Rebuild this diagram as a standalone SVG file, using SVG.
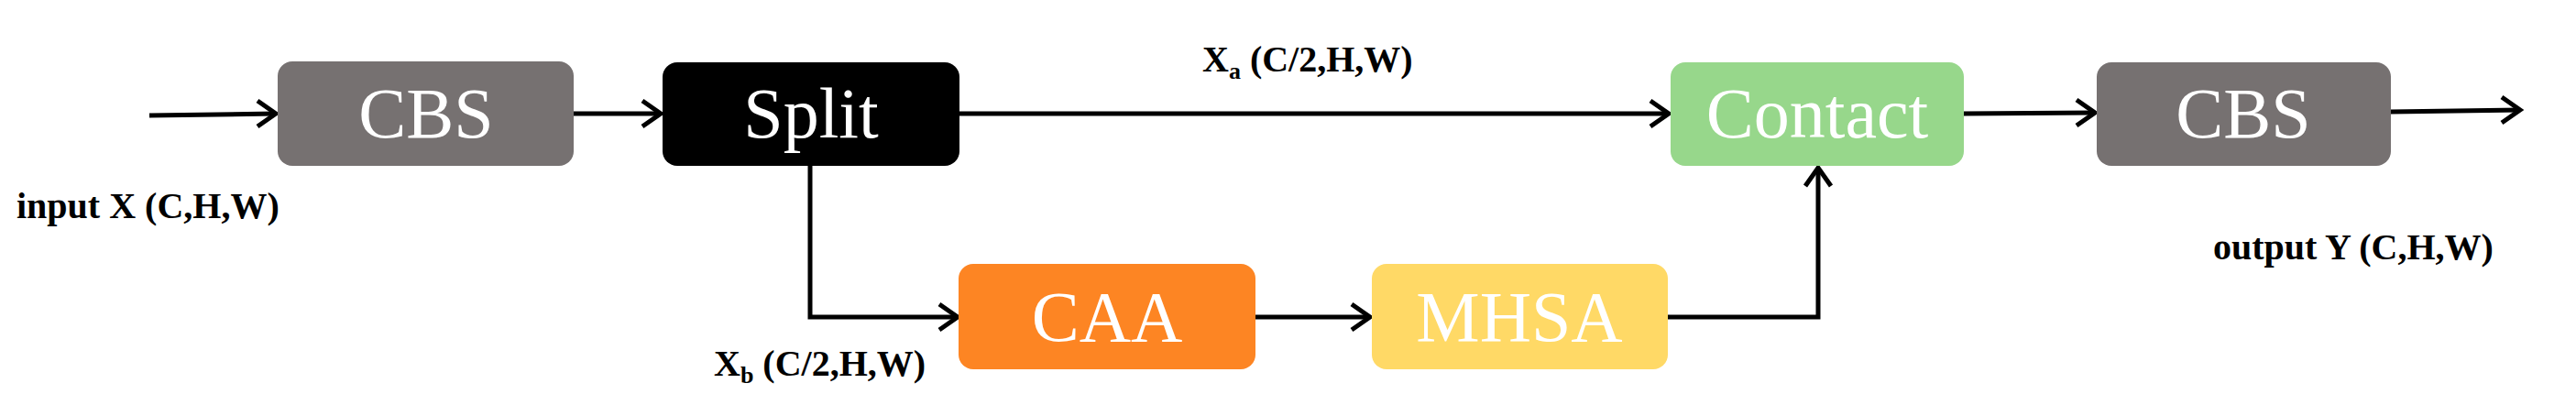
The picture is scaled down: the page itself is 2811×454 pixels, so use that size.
<svg xmlns="http://www.w3.org/2000/svg" width="2811" height="454" viewBox="0 0 2811 454">
<style>
.box text{font-family:"Liberation Serif",serif;font-size:78px;fill:#fff;text-anchor:middle}
.lbl{font-family:"Liberation Serif",serif;font-size:40px;font-weight:bold;fill:#000}
.c{fill:none;stroke:#000;stroke-width:5}
</style>
<defs>
<marker id="a" viewBox="0 0 20 20" refX="18" refY="10" markerWidth="8" markerHeight="8" markerUnits="userSpaceOnUse" orient="auto" style="overflow:visible">
<path d="M4,0 L18,10 L4,20" fill="none" stroke="#000" stroke-width="3"/>
</marker>
</defs>
<rect width="2811" height="454" fill="#fff"/>
<g id="connectors">
<path class="c" d="M163,126 L301,124" marker-end="url(#a)" style="--m:0"/>
<path class="c" d="M626,124 L721,124"/>
<path class="c" d="M1047,124 L1821,124"/>
<path class="c" d="M884,181 L884,346 L1045,346"/>
<path class="c" d="M1370,346 L1495,346"/>
<path class="c" d="M1820,346 L1984,346 L1984,183"/>
<path class="c" d="M2143,124 L2286,123"/>
<path class="c" d="M2609,122 L2750,120"/>
</g>
<g fill="none" stroke="#000" stroke-width="5" stroke-linejoin="miter">
<path d="M281,110 L301,124 L281,138"/>
<path d="M701,110 L721,124 L701,138"/>
<path d="M1801,110 L1821,124 L1801,138"/>
<path d="M1025,332 L1045,346 L1025,360"/>
<path d="M1475,332 L1495,346 L1475,360"/>
<path d="M1970,203 L1984,183 L1998,203"/>
<path d="M2266,109 L2286,123 L2266,137"/>
<path d="M2730,106 L2750,120 L2730,134"/>
</g>
<g id="cbs1" class="box"><rect x="303" y="67" width="323" height="114" rx="16" fill="#767171"/><text x="465" y="150">CBS</text></g>
<g id="split" class="box"><rect x="723" y="68" width="324" height="113" rx="16" fill="#000"/><text x="885" y="150">Split</text></g>
<g id="caa" class="box"><rect x="1046" y="288" width="324" height="115" rx="16" fill="#FD8523"/><text x="1208" y="372">CAA</text></g>
<g id="mhsa" class="box"><rect x="1497" y="288" width="323" height="115" rx="16" fill="#FFD966"/><text x="1658" y="372">MHSA</text></g>
<g id="contact" class="box"><rect x="1823" y="68" width="320" height="113" rx="16" fill="#97D78B"/><text x="1983" y="150">Contact</text></g>
<g id="cbs2" class="box"><rect x="2288" y="68" width="321" height="113" rx="16" fill="#767171"/><text x="2448" y="150">CBS</text></g>
<g id="labels">
<text class="lbl" x="18" y="238">input X (C,H,W)</text>
<text class="lbl" x="1312" y="78">X<tspan font-size="26" dy="8">a</tspan><tspan dy="-8"> (C/2,H,W)</tspan></text>
<text class="lbl" x="779" y="410">X<tspan font-size="26" dy="8">b</tspan><tspan dy="-8"> (C/2,H,W)</tspan></text>
<text class="lbl" x="2415" y="283">output Y (C,H,W)</text>
</g>
</svg>
